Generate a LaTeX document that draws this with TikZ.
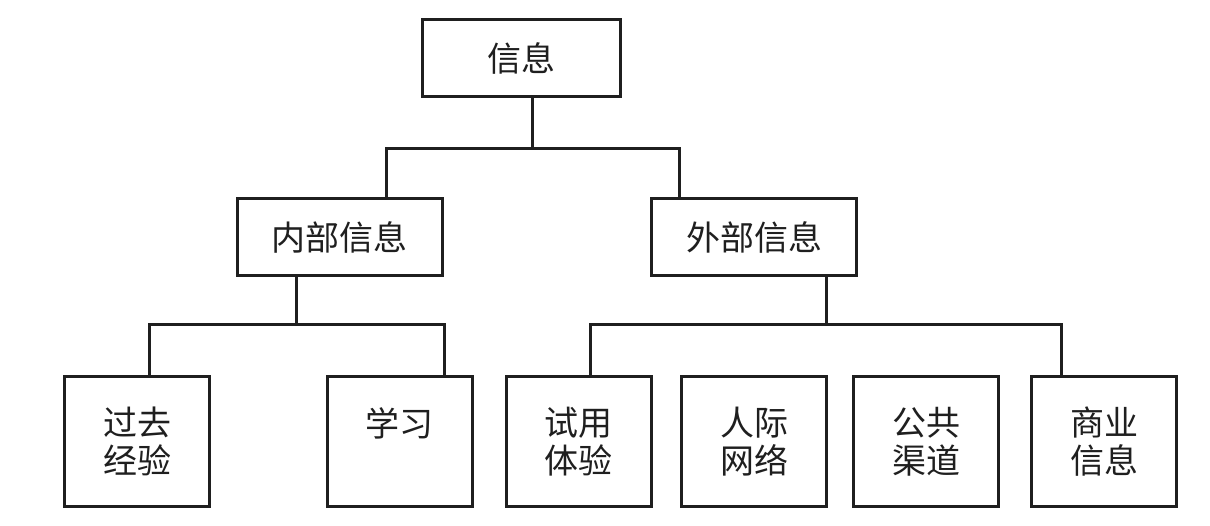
\documentclass[tikz,border=0pt]{standalone}
\usepackage{fontspec}
\newfontfamily\cjk{Noto Sans CJK SC}
\begin{document}
\begin{tikzpicture}[x=1pt,y=-1pt,
  box/.style={draw=black!88, line width=3pt, inner sep=0pt, align=center,
    font=\cjk\fontsize{34}{38}\selectfont, text=black!88},
  leaf/.style={box, minimum width=145pt, minimum height=129pt},
  mid/.style={box, minimum width=205pt, minimum height=77pt},
  link/.style={line width=3pt, draw=black!88}]
\useasboundingbox[fill=white] (0,0) rectangle (1210,526);
\node[box, minimum width=198pt, minimum height=77pt] (top) at (521,58.5) {信息};
\node[mid] (inner) at (339.5,237.5) {内部信息};
\node[mid] (outer) at (754,237.5) {外部信息};
\node[leaf] (past) at (137,441.5) {过去\\经验};
\node[leaf] (learn) at (399.5,441.5) {学习\\\mbox{}};
\node[leaf] (trial) at (578.5,441.5) {试用\\体验};
\node[leaf] (people) at (754,441.5) {人际\\网络};
\node[leaf] (public) at (926,441.5) {公共\\渠道};
\node[leaf] (biz) at (1104,441.5) {商业\\信息};
% level 1 connectors
\coordinate (j0) at (532,149);
\coordinate (jL) at (386,149);
\coordinate (jR) at (679,149);
\draw[link] (top.south -| j0) -- (j0);
\draw[link] (inner.north -| jL) -- (jL) -- (jR) -- (outer.north -| jR);
% internal
\coordinate (k0) at (296,325);
\coordinate (kL) at (149,325);
\coordinate (kR) at (444,325);
\draw[link] (inner.south -| k0) -- (k0);
\draw[link] (past.north -| kL) -- (kL) -- (kR) -- (learn.north -| kR);
% external
\coordinate (m0) at (826,325);
\coordinate (mL) at (590,325);
\coordinate (mR) at (1061,325);
\draw[link] (outer.south -| m0) -- (m0);
\draw[link] (trial.north -| mL) -- (mL) -- (mR) -- (biz.north -| mR);
\end{tikzpicture}
\end{document}
